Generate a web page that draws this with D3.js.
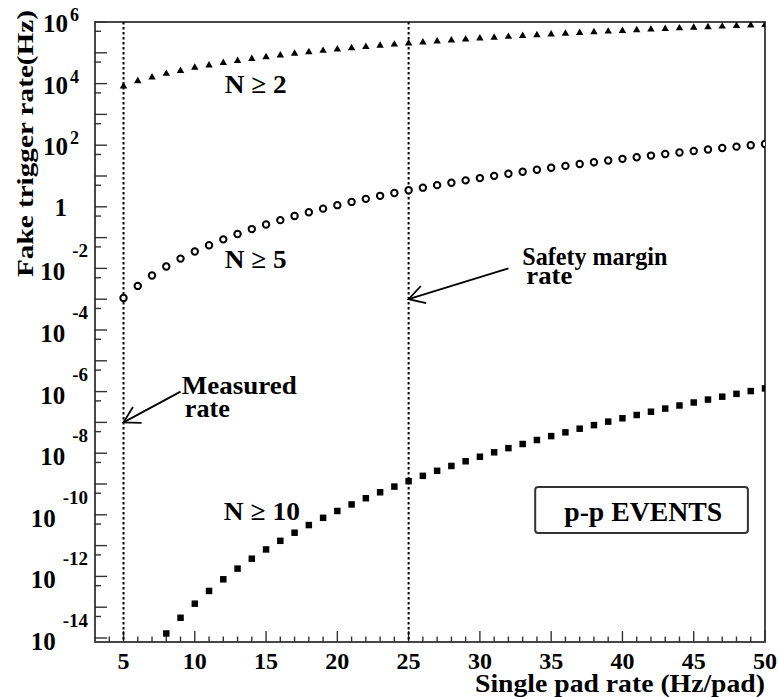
<!DOCTYPE html>
<html><head><meta charset="utf-8">
<script src="https://cdn.jsdelivr.net/npm/d3@7"></script>
<style>
html,body{margin:0;padding:0;background:#fff;}
text{font-family:"Liberation Serif","Times New Roman",serif;font-weight:bold;fill:#000;}
</style></head>
<body>
<svg id="chart" width="778" height="697"></svg>
<script>
// ---------- data ----------
const padRate = d3.range(5, 51);               // Single pad rate (Hz/pad), 5..50
const padRateN10 = d3.range(8, 51);            // N>=10 points visible from 8
const rateN2 = [8.1e3,1.2e4,1.6e4,2.1e4,2.6e4,3.3e4,3.9e4,4.7e4,5.5e4,6.4e4,7.3e4,8.3e4,9.4e4,1.05e5,1.17e5,1.3e5,1.43e5,1.57e5,1.72e5,1.87e5,2.03e5,2.2e5,2.37e5,2.55e5,2.73e5,2.93e5,3.12e5,3.33e5,3.54e5,3.76e5,3.98e5,4.21e5,4.45e5,4.69e5,4.94e5,5.2e5,5.46e5,5.73e5,6.01e5,6.29e5,6.58e5,6.88e5,7.18e5,7.49e5,7.8e5,8.1e5];
const rateN5 = [1.1e-3,2.7e-3,5.9e-3,1.15e-2,2.08e-2,3.52e-2,5.67e-2,8.76e-2,0.131,0.189,0.267,0.369,0.500,0.665,0.872,1.13,1.44,1.81,2.27,2.80,3.44,4.18,5.05,6.06,7.22,8.55,10.1,11.8,13.8,16.0,18.5,21.3,24.4,27.9,31.8,36.0,40.8,46.0,51.8,58.1,65.0,72.5,80.7,89.7,99.4,110];
const rateN10 = [1.40e-14,4.53e-14,1.30e-13,3.37e-13,8.05e-13,1.79e-12,3.76e-12,7.50e-12,1.43e-11,2.62e-11,4.64e-11,7.97e-11,1.33e-10,2.17e-10,3.45e-10,5.39e-10,8.24e-10,1.24e-9,1.84e-9,2.68e-9,3.85e-9,5.47e-9,7.68e-9,1.07e-8,1.46e-8,1.99e-8,2.68e-8,3.59e-8,4.75e-8,6.25e-8,8.16e-8,1.06e-7,1.36e-7,1.74e-7,2.22e-7,2.81e-7,3.54e-7,4.43e-7,5.51e-7,6.84e-7,8.44e-7,1.04e-6,1.27e-6];
const xTickLabels = [5,10,15,20,25,30,35,40,45,50];
const yLabelExponents = [6,4,2,0,-2,-4,-6,-8,-10,-12,-14];
const markerLines = [5, 25];   // vertical dotted lines
const curveLabels = [
  {text:"N \u2265 2", x:12.1, y:Math.pow(10,3.69), w:62},
  {text:"N \u2265 5", x:12.1, y:Math.pow(10,-1.99), w:62},
  {text:"N \u2265 10", x:12.04, y:Math.pow(10,-10.17), w:76}
];
const notes = [
  {text:"Measured", x:9.09, y:Math.pow(10,-6.08), w:115},
  {text:"rate", x:9.3, y:Math.pow(10,-6.82), w:45},
  {text:"Safety margin", x:32.98, y:Math.pow(10,-1.89), w:145},
  {text:"rate", x:33.26, y:Math.pow(10,-2.51), w:46}
];
const arrows = [
  {x1:9, y1:1e-6, x2:5, y2:1e-7},
  {x1:32, y1:1e-2, x2:25, y2:1e-3}
];
const boxText = "p-p EVENTS";
const boxX = [33.88, 48.8], boxY = [Math.pow(10,-9.10), Math.pow(10,-10.59)];

// ---------- layout ----------
const svg = d3.select("#chart");
const L = 95, R = 765, T = 22, B = 642;
const x = d3.scaleLinear().domain([3, 50]).range([L, R]);
const y = d3.scaleLog().domain([Math.pow(10,-14.13), 1e6]).range([B, T]);
const axisColor = "#333";

svg.append("defs").append("clipPath").attr("id","plotclip")
  .append("rect").attr("x",L).attr("y",T).attr("width",R-L).attr("height",B-T);

// frame
svg.append("rect").attr("x",L).attr("y",T).attr("width",R-L).attr("height",B-T)
  .attr("fill","none").attr("stroke",axisColor).attr("stroke-width",1.8);

// x ticks (inward, from bottom)
const xMinor = d3.range(4, 50).filter(v => v % 5 !== 0);
svg.append("g").selectAll("line").data(xTickLabels).join("line")
  .attr("x1",d=>x(d)).attr("x2",d=>x(d)).attr("y1",B).attr("y2",B-11)
  .attr("stroke",axisColor).attr("stroke-width",1.4);
svg.append("g").selectAll("line").data(xMinor).join("line")
  .attr("x1",d=>x(d)).attr("x2",d=>x(d)).attr("y1",B).attr("y2",B-5.5)
  .attr("stroke",axisColor).attr("stroke-width",1.4);
svg.append("g").selectAll("text").data(xTickLabels).join("text")
  .attr("x",d=>x(d)).attr("y",669).attr("text-anchor","middle")
  .attr("font-size",24).text(d=>d);

// y ticks (inward, from left)
const yMajor = d3.range(-14, 7).map(e => Math.pow(10, e));
const yMinor = d3.range(-13, 7).map(e => 0.5 * Math.pow(10, e));
svg.append("g").selectAll("line").data(yMajor).join("line")
  .attr("x1",L).attr("x2",L+12).attr("y1",d=>y(d)).attr("y2",d=>y(d))
  .attr("stroke",axisColor).attr("stroke-width",1.4);
svg.append("g").selectAll("line").data(yMinor).join("line")
  .attr("x1",L).attr("x2",L+6).attr("y1",d=>y(d)).attr("y2",d=>y(d))
  .attr("stroke",axisColor).attr("stroke-width",1.4);

// y labels
const yl = svg.append("g");
yLabelExponents.forEach(e => {
  const ty = y(Math.pow(10, e));
  if (e === 0) {
    yl.append("text").attr("x",67).attr("y",ty+9).attr("text-anchor","end").attr("font-size",25).text("1");
  } else if (e > 0) {
    yl.append("text").attr("x",68).attr("y",ty+10).attr("text-anchor","end").attr("font-size",25).text("10");
    yl.append("text").attr("x",70).attr("y",ty-1).attr("text-anchor","start").attr("font-size",18).text(e);
  } else {
    const ex = yl.append("text").attr("x",88).attr("y",ty-11).attr("text-anchor","end").attr("font-size",19).text(e);
    const w = ex.node().getComputedTextLength();
    yl.append("text").attr("x",88-w-7).attr("y",ty+12).attr("text-anchor","end").attr("font-size",25).text("10");
  }
});

// axis titles
svg.append("text").attr("x",765).attr("y",692).attr("text-anchor","end")
  .attr("font-size",25).attr("textLength",290).attr("lengthAdjust","spacingAndGlyphs")
  .text("Single pad rate (Hz/pad)");
svg.append("text").attr("transform","translate(33,10) rotate(-90)").attr("text-anchor","end")
  .attr("font-size",23).attr("textLength",267).attr("lengthAdjust","spacingAndGlyphs")
  .text("Fake trigger rate(Hz)");

// vertical dotted lines
svg.append("g").selectAll("line").data(markerLines).join("line")
  .attr("x1",d=>x(d)).attr("x2",d=>x(d)).attr("y1",T).attr("y2",B)
  .attr("stroke","#000").attr("stroke-width",2).attr("stroke-dasharray","2.6,2.4");

// data
const plot = svg.append("g").attr("clip-path","url(#plotclip)");
const tri = d3.symbol().type(d3.symbolTriangle).size(24);
plot.append("g").selectAll("path").data(padRate.map((r,i)=>[r, rateN2[i]])).join("path")
  .attr("d", tri).attr("transform", d=>`translate(${x(d[0])},${y(d[1])})`).attr("fill","#000");
plot.append("g").selectAll("circle").data(padRate.map((r,i)=>[r, rateN5[i]])).join("circle")
  .attr("cx",d=>x(d[0])).attr("cy",d=>y(d[1])).attr("r",3.2)
  .attr("fill","#fff").attr("stroke","#000").attr("stroke-width",2);
const sq = d3.symbol().type(d3.symbolSquare).size(42);
plot.append("g").selectAll("path").data(padRateN10.map((r,i)=>[r, rateN10[i]])).join("path")
  .attr("d", sq).attr("transform", d=>`translate(${x(d[0])},${y(d[1])})`).attr("fill","#000");

// curve labels & notes
svg.append("g").selectAll("text").data(curveLabels.concat(notes)).join("text")
  .attr("x",d=>x(d.x)).attr("y",d=>y(d.y)).attr("font-size",26)
  .attr("textLength",d=>d.w).attr("lengthAdjust","spacingAndGlyphs").text(d=>d.text);

// arrows
const ag = svg.append("g").attr("stroke","#000").attr("stroke-width",1.8).attr("fill","none");
arrows.forEach(a => {
  const x1 = x(a.x1), y1 = y(a.y1), x2 = x(a.x2), y2 = y(a.y2);
  ag.append("line").attr("x1",x1).attr("y1",y1).attr("x2",x2).attr("y2",y2);
  const ang = Math.atan2(y1 - y2, x1 - x2), len = 18, spread = Math.PI/6;
  const p = [
    [x2 + len*Math.cos(ang - spread), y2 + len*Math.sin(ang - spread)],
    [x2, y2],
    [x2 + len*Math.cos(ang + spread), y2 + len*Math.sin(ang + spread)]
  ];
  ag.append("path").attr("d", d3.line()(p));
});

// p-p EVENTS box
svg.append("rect").attr("x",x(boxX[0])).attr("y",y(boxY[0]))
  .attr("width",x(boxX[1])-x(boxX[0])).attr("height",y(boxY[1])-y(boxY[0]))
  .attr("rx",3).attr("fill","#fff").attr("stroke","#333").attr("stroke-width",2);
svg.append("text").attr("y",521).attr("font-size",27)
  .attr("x", x(boxX[0]) + 29).attr("textLength",158).attr("lengthAdjust","spacingAndGlyphs")
  .text(boxText);
</script>
</body></html>
